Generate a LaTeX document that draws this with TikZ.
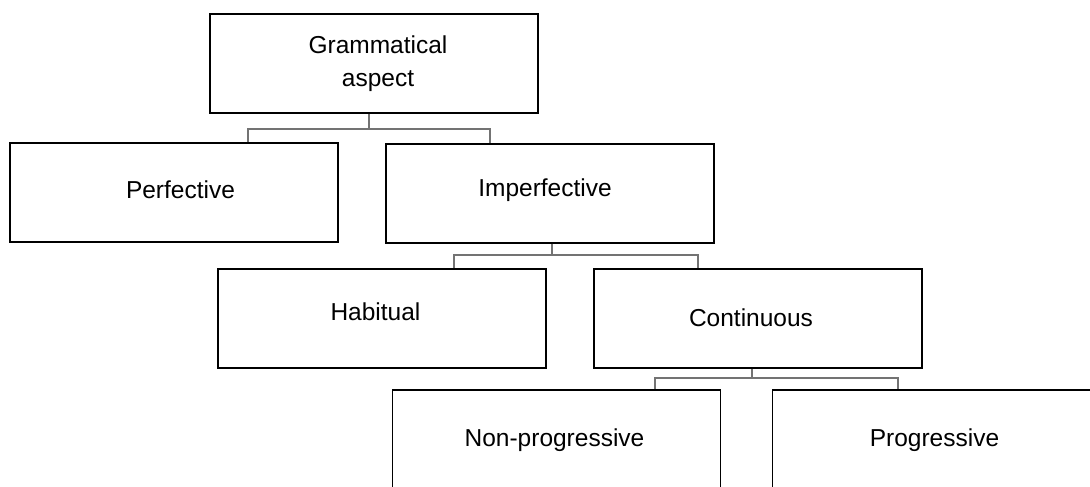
\documentclass[tikz,border=0pt]{standalone}
\usepackage{fontspec}
\setmainfont{Liberation Sans}
\begin{document}
\begin{tikzpicture}[x=1pt,y=-1pt,
  box/.style={draw=black,line width=2pt,fill=white,inner sep=0pt,
    minimum width=328pt,minimum height=99pt},
  lbl/.style={inner sep=0pt,align=center,font=\fontsize{24.5}{33}\selectfont},
  conn/.style={draw=black!55,line width=1.3pt}]
\clip (0,0) rectangle (1090,487);
\useasboundingbox (0,0) rectangle (1090,487);
\node[box] (ga) at (373.5,63.5) {};
\node[box] (pf) at (173.5,192.5) {};
\node[box] (ipf) at (550,193) {};
\node[box] (hab) at (382,318.5) {};
\node[box] (cont) at (758,318) {};
\node[box,minimum height=100pt,line width=1.5pt] (np) at (556.5,440) {};
\node[box,minimum height=100pt,line width=1.5pt] (pr) at (936.5,440) {};
\node[lbl] (tga) at (378,63.5) {Grammatical\\aspect};
\node[lbl] (tpf) at (180.5,190) {Perfective};
\node[lbl] (tipf) at (545,190) {Imperfective};
\node[lbl] (thab) at (375.5,312) {Habitual};
\node[lbl] (tcont) at (751,318) {Continuous};
\node[lbl] (tnp) at (554.5,440) {Non-progressive};
\node[lbl] (tpr) at (934.5,440) {Progressive};
\coordinate (j1) at (369,129);
\coordinate (j2) at (552,255);
\coordinate (j3) at (752,378);
\draw[conn] (ga.south -| j1) -- (j1);
\draw[conn] ([xshift=74.5pt]pf.north) |- (j1) -| ([xshift=-60pt]ipf.north);
\draw[conn] (ipf.south -| j2) -- (j2);
\draw[conn] ([xshift=72pt]hab.north) |- (j2) -| ([xshift=-60pt]cont.north);
\draw[conn] (cont.south -| j3) -- (j3);
\draw[conn] ([xshift=98.5pt]np.north) |- (j3) -| ([xshift=-38.5pt]pr.north);
\end{tikzpicture}
\end{document}
